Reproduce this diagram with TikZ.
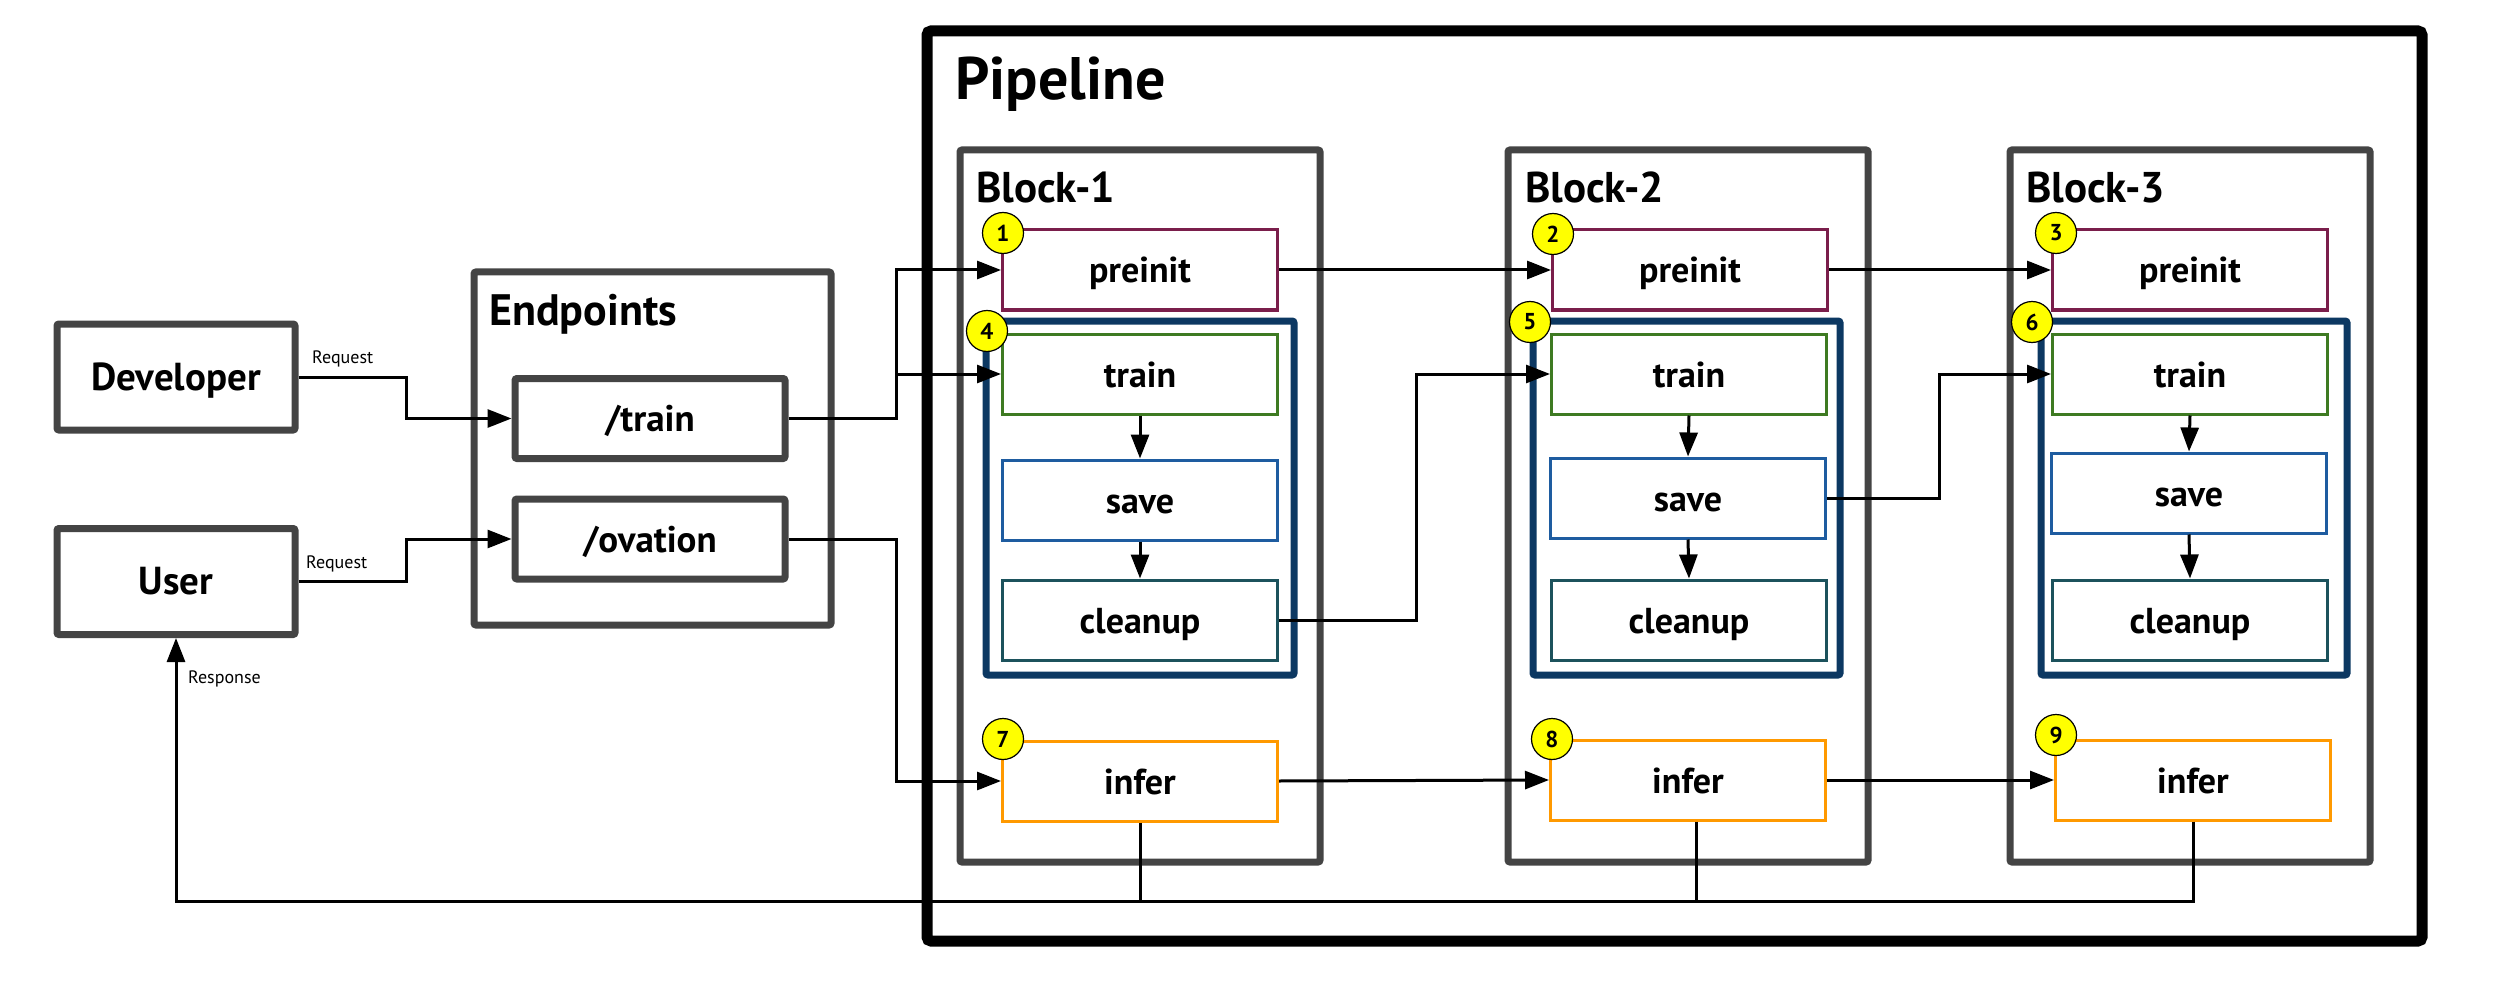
\documentclass[tikz,border=0pt]{standalone}
\usepackage{fontspec}
\setmainfont{PT Sans}
\usetikzlibrary{arrows.meta}
\definecolor{boxgrey}{RGB}{68,68,68}
\definecolor{navy}{RGB}{12,56,98}
\definecolor{maroonc}{RGB}{122,30,75}
\definecolor{leaf}{RGB}{62,122,34}
\definecolor{skyb}{RGB}{30,92,160}
\definecolor{tealc}{RGB}{28,82,92}
\definecolor{amber}{RGB}{255,153,0}
\definecolor{badgey}{RGB}{255,255,0}
\begin{document}
\begin{tikzpicture}[x=1pt,y=-1pt,
  greybox/.style={draw=boxgrey,line width=7pt,rounded corners=2pt,inner sep=0pt,text height=26pt,text depth=0pt},
  actor/.style={greybox,minimum width=238pt,minimum height=106pt,font=\bfseries\fontsize{39}{42}\selectfont},
  epbox/.style={greybox,minimum width=270pt,minimum height=80pt,font=\bfseries\fontsize{37}{40}\selectfont},
  blockbox/.style={greybox,minimum width=360pt,minimum height=712pt},
  groupbox/.style={draw=navy,line width=7pt,rounded corners=2pt,inner sep=0pt,minimum height=354pt},
  stage/.style={draw,line width=3pt,fill=white,minimum width=275pt,minimum height=80pt,inner sep=0pt,text height=26pt,text depth=0pt,font=\bfseries\fontsize{36}{40}\selectfont},
  prebox/.style={stage,draw=maroonc},
  trnbox/.style={stage,draw=leaf},
  savbox/.style={stage,draw=skyb},
  clnbox/.style={stage,draw=tealc},
  infbox/.style={stage,draw=amber},
  badge/.style={circle,draw=black,line width=1.2pt,fill=badgey,minimum size=41pt,inner sep=0pt,font=\bfseries\fontsize{23}{25}\selectfont},
  conn/.style={draw=black,line width=3pt},
  arr/.style={conn,-{Triangle[length=24pt,width=18pt]}},
  title/.style={anchor=base west,inner sep=0pt,font=\bfseries\fontsize{43}{46}\selectfont},
  small/.style={anchor=base west,inner sep=0pt,font=\fontsize{18}{20}\selectfont}
]
\useasboundingbox (0,0) rectangle (2500,1000);
\fill[white] (0,0) rectangle (2500,1000);

% containers
\node[draw=black,line width=11pt,rounded corners=4pt,minimum width=1495pt,minimum height=910pt,inner sep=0pt] (pipe) at (1674.5,486) {};
\node[title,font=\bfseries\fontsize{60}{64}\selectfont] (pipet) at (955,100) {Pipeline};

\node[greybox,minimum width=357pt,minimum height=353pt] (endp) at (652.5,448.5) {};
\node[title,font=\bfseries\fontsize{44}{48}\selectfont] (endpt) at (489,325) {Endpoints};

\node[actor] (dev) at (176,377) {Developer};
\node[actor] (usr) at (176,581.5) {User};
\node[epbox] (tep) at (650,418.5) {/train};
\node[epbox] (oep) at (650,539) {/ovation};

\node[blockbox] (b1) at (1140,506) {};
\node[blockbox] (b2) at (1688,506) {};
\node[blockbox] (b3) at (2190,506) {};
\node[title] (b1t) at (976,203) {Block-1};
\node[title] (b2t) at (1525,203) {Block-2};
\node[title] (b3t) at (2026,203) {Block-3};

\node[groupbox,minimum width=308pt] (g1) at (1140,498) {};
\node[groupbox,minimum width=307pt] (g2) at (1686.5,498) {};
\node[groupbox,minimum width=306pt] (g3) at (2194,498) {};

% stages
\node[prebox] (pre1) at (1140,270) {preinit};
\node[trnbox] (trn1) at (1140,374) {train};
\node[savbox] (sav1) at (1140,500) {save};
\node[clnbox] (cln1) at (1140,620) {cleanup};
\node[infbox] (inf1) at (1140,781) {infer};

\node[prebox] (pre2) at (1690,270) {preinit};
\node[trnbox] (trn2) at (1689,374) {train};
\node[savbox] (sav2) at (1688,498) {save};
\node[clnbox] (cln2) at (1689,620) {cleanup};
\node[infbox] (inf2) at (1688,780) {infer};

\node[prebox] (pre3) at (2190,270) {preinit};
\node[trnbox] (trn3) at (2190,374) {train};
\node[savbox] (sav3) at (2189,493) {save};
\node[clnbox] (cln3) at (2190,620) {cleanup};
\node[infbox] (inf3) at (2193,780) {infer};

% helper coordinates
\coordinate (k1) at (406,0);
\coordinate (k2) at (896,0);
\coordinate (k3) at (1416,0);
\coordinate (k4) at (1939,0);
\coordinate (bus) at (0,901);

% connectors
\draw[arr] (dev.east) -- (dev.east -| k1) |- (tep.west);
\draw[arr] (usr.east) -- (usr.east -| k1) |- (oep.west);
\draw[arr] (tep.east) -- (tep.east -| k2) |- (pre1.west);
\draw[arr] (tep.east -| k2) |- (trn1.west);
\draw[arr] (oep.east) -- (oep.east -| k2) |- (inf1.west);

\draw[arr] (pre1.east) -- (pre2.west);
\draw[arr] (pre2.east) -- (pre3.west);
\draw[arr] (cln1.east) -- (cln1.east -| k3) |- (trn2.west);
\draw[arr] (sav2.east) -- (sav2.east -| k4) |- (trn3.west);
\draw[arr] (inf1.east) -- (inf2.west);
\draw[arr] (inf2.east) -- (inf3.west);

\foreach \b in {1,2,3}{
  \draw[arr] (trn\b.south) -- (sav\b.north);
  \draw[arr] (sav\b.south) -- (cln\b.north);
}

\draw[arr] (inf3.south) -- (inf3.south |- bus) -| (usr.south);
\draw[conn] (inf1.south) -- (inf1.south |- bus);
\draw[conn] ([xshift=8pt]inf2.south) -- ([xshift=8pt]inf2.south |- bus);

% labels
\node[small] (rq1) at (312,363) {Request};
\node[small] (rq2) at (306,568) {Request};
\node[small] (rsp) at (188,683) {Response};

% badges
\node[badge] (n1) at (1003,233) {1};
\node[badge] (n2) at (1553,234) {2};
\node[badge] (n3) at (2056,233) {3};
\node[badge] (n4) at (987,331) {4};
\node[badge] (n5) at (1530,322) {5};
\node[badge] (n6) at (2032,322) {6};
\node[badge] (n7) at (1003,739) {7};
\node[badge] (n8) at (1552,739) {8};
\node[badge] (n9) at (2056,735) {9};
\end{tikzpicture}
\end{document}
